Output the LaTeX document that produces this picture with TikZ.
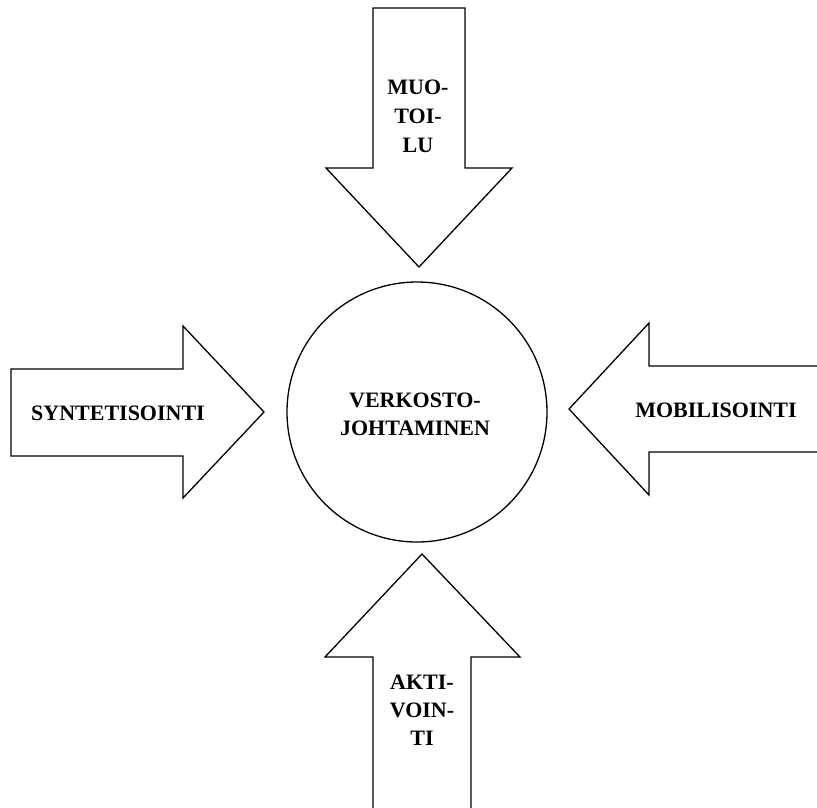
\documentclass[tikz,border=0pt]{standalone}
\usepackage{fontspec}
\setmainfont{Liberation Serif}
\begin{document}
\begin{tikzpicture}[x=1pt,y=-1pt,
  blockarrow/.style={draw=black, line width=1.3pt, fill=white, line join=miter},
  lbl/.style={font=\fontsize{22}{29}\selectfont\bfseries, align=center, inner sep=0pt},
  hub/.style={draw=black, line width=1.3pt, circle, minimum size=260pt, inner sep=0pt}]
\useasboundingbox (0,0) rectangle (817,807);

% arrow from above
\draw[blockarrow] (373,8) -- (465,8) -- (465,168) -- (512,168) -- (419,267)
  -- (326,168) -- (373,168) -- cycle;
% arrow from the left
\draw[blockarrow] (11,369) -- (183,369) -- (183,326) -- (264,412)
  -- (183,498) -- (183,456) -- (11,456) -- cycle;
% arrow from the right (shaft runs off the edge)
\draw[blockarrow] (818,366) -- (649,366) -- (649,323) -- (569,409)
  -- (649,495) -- (649,452) -- (818,452);
% arrow from below (shaft runs off the edge)
\draw[blockarrow] (373,808) -- (373,657) -- (325,657) -- (422,554)
  -- (520,657) -- (471,657) -- (471,808);

% central circle
\node[hub] (hub) at (417,412) {};
\node[lbl, font=\fontsize{22}{28}\selectfont\bfseries] (hubtxt) at (415,414) {VERKOSTO-\\JOHTAMINEN};

% arrow labels
\node[lbl] (top) at (418,116) {MUO-\\TOI-\\LU};
\node[lbl] (left) at (118,413) {SYNTETISOINTI};
\node[lbl] (right) at (716,410) {MOBILISOINTI};
\node[lbl, font=\fontsize{22}{28}\selectfont\bfseries] (bottom) at (422,710) {AKTI-\\VOIN-\\TI};
\end{tikzpicture}
\end{document}
